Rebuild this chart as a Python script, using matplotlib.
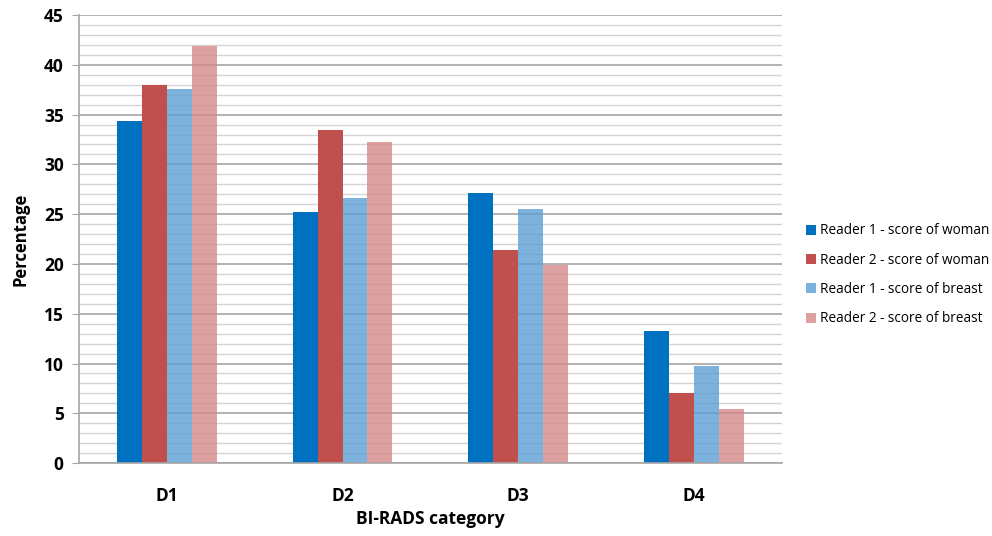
import matplotlib
matplotlib.use("Agg")
import matplotlib.pyplot as plt
import numpy as np

categories = ["D1", "D2", "D3", "D4"]
series_names = [
    "Reader 1 - score of woman",
    "Reader 2 - score of woman",
    "Reader 1 - score of breast",
    "Reader 2 - score of breast",
]
r1_woman = [34.4, 25.2, 27.1, 13.3]
r2_woman = [38.0, 33.5, 21.4, 7.0]
r1_breast = [37.6, 26.6, 25.5, 9.8]
r2_breast = [41.9, 32.2, 19.9, 5.4]

colors = ["#0070C0", "#C0504D", "#5C9FD4", "#D58A8B"]
alphas = [1.0, 1.0, 0.8, 0.8]

plt.rcParams["font.family"] = ["Open Sans", "DejaVu Sans"]

fig = plt.figure(figsize=(9.92, 5.36), dpi=100)
ax = fig.add_axes([0.0796, 0.136, 0.7085, 0.836])

x = np.arange(len(categories))
width = 0.142
data = [r1_woman, r2_woman, r1_breast, r2_breast]
for i, (vals, name) in enumerate(zip(data, series_names)):
    ax.bar(x + (i - 1.5) * width, vals, width, color=colors[i], alpha=alphas[i],
           label=name, zorder=2)

ax.set_xlim(-0.5, len(categories) - 0.5)
ax.set_ylim(0, 45)
ax.set_yticks(np.arange(0, 46, 5))
ax.set_yticks(np.arange(0, 46, 1), minor=True)
ax.grid(True, axis="y", which="major", color="#A6A6A6", linewidth=1.2, zorder=1)
ax.grid(True, axis="y", which="minor", color="#D4D4D4", linewidth=1.0, zorder=1)
ax.set_axisbelow(True)

ax.set_xticks(x)
ax.set_xticklabels(categories, fontsize=12.5, fontweight="bold")
ax.tick_params(axis="x", length=0, pad=17)
ax.tick_params(axis="y", which="major", length=5, color="#A6A6A6", labelsize=12.5, pad=6)
ax.tick_params(axis="y", which="minor", length=0)
for lab in ax.get_yticklabels():
    lab.set_fontweight("bold")

for side in ["top", "right"]:
    ax.spines[side].set_visible(False)
for side in ["left", "bottom"]:
    ax.spines[side].set_color("#A6A6A6")
    ax.spines[side].set_linewidth(1.2)

ax.set_ylabel("Percentage", fontsize=12, fontweight="bold", labelpad=10)
ax.set_xlabel("BI-RADS category", fontsize=12.5, fontweight="bold", labelpad=4)

ax.legend(loc="center left", bbox_to_anchor=(1.017, 0.42), frameon=False,
          fontsize=9.8, handlelength=0.75, handleheight=0.75, handletextpad=0.3,
          labelspacing=1.05)

fig.savefig("out.png", dpi=100)
